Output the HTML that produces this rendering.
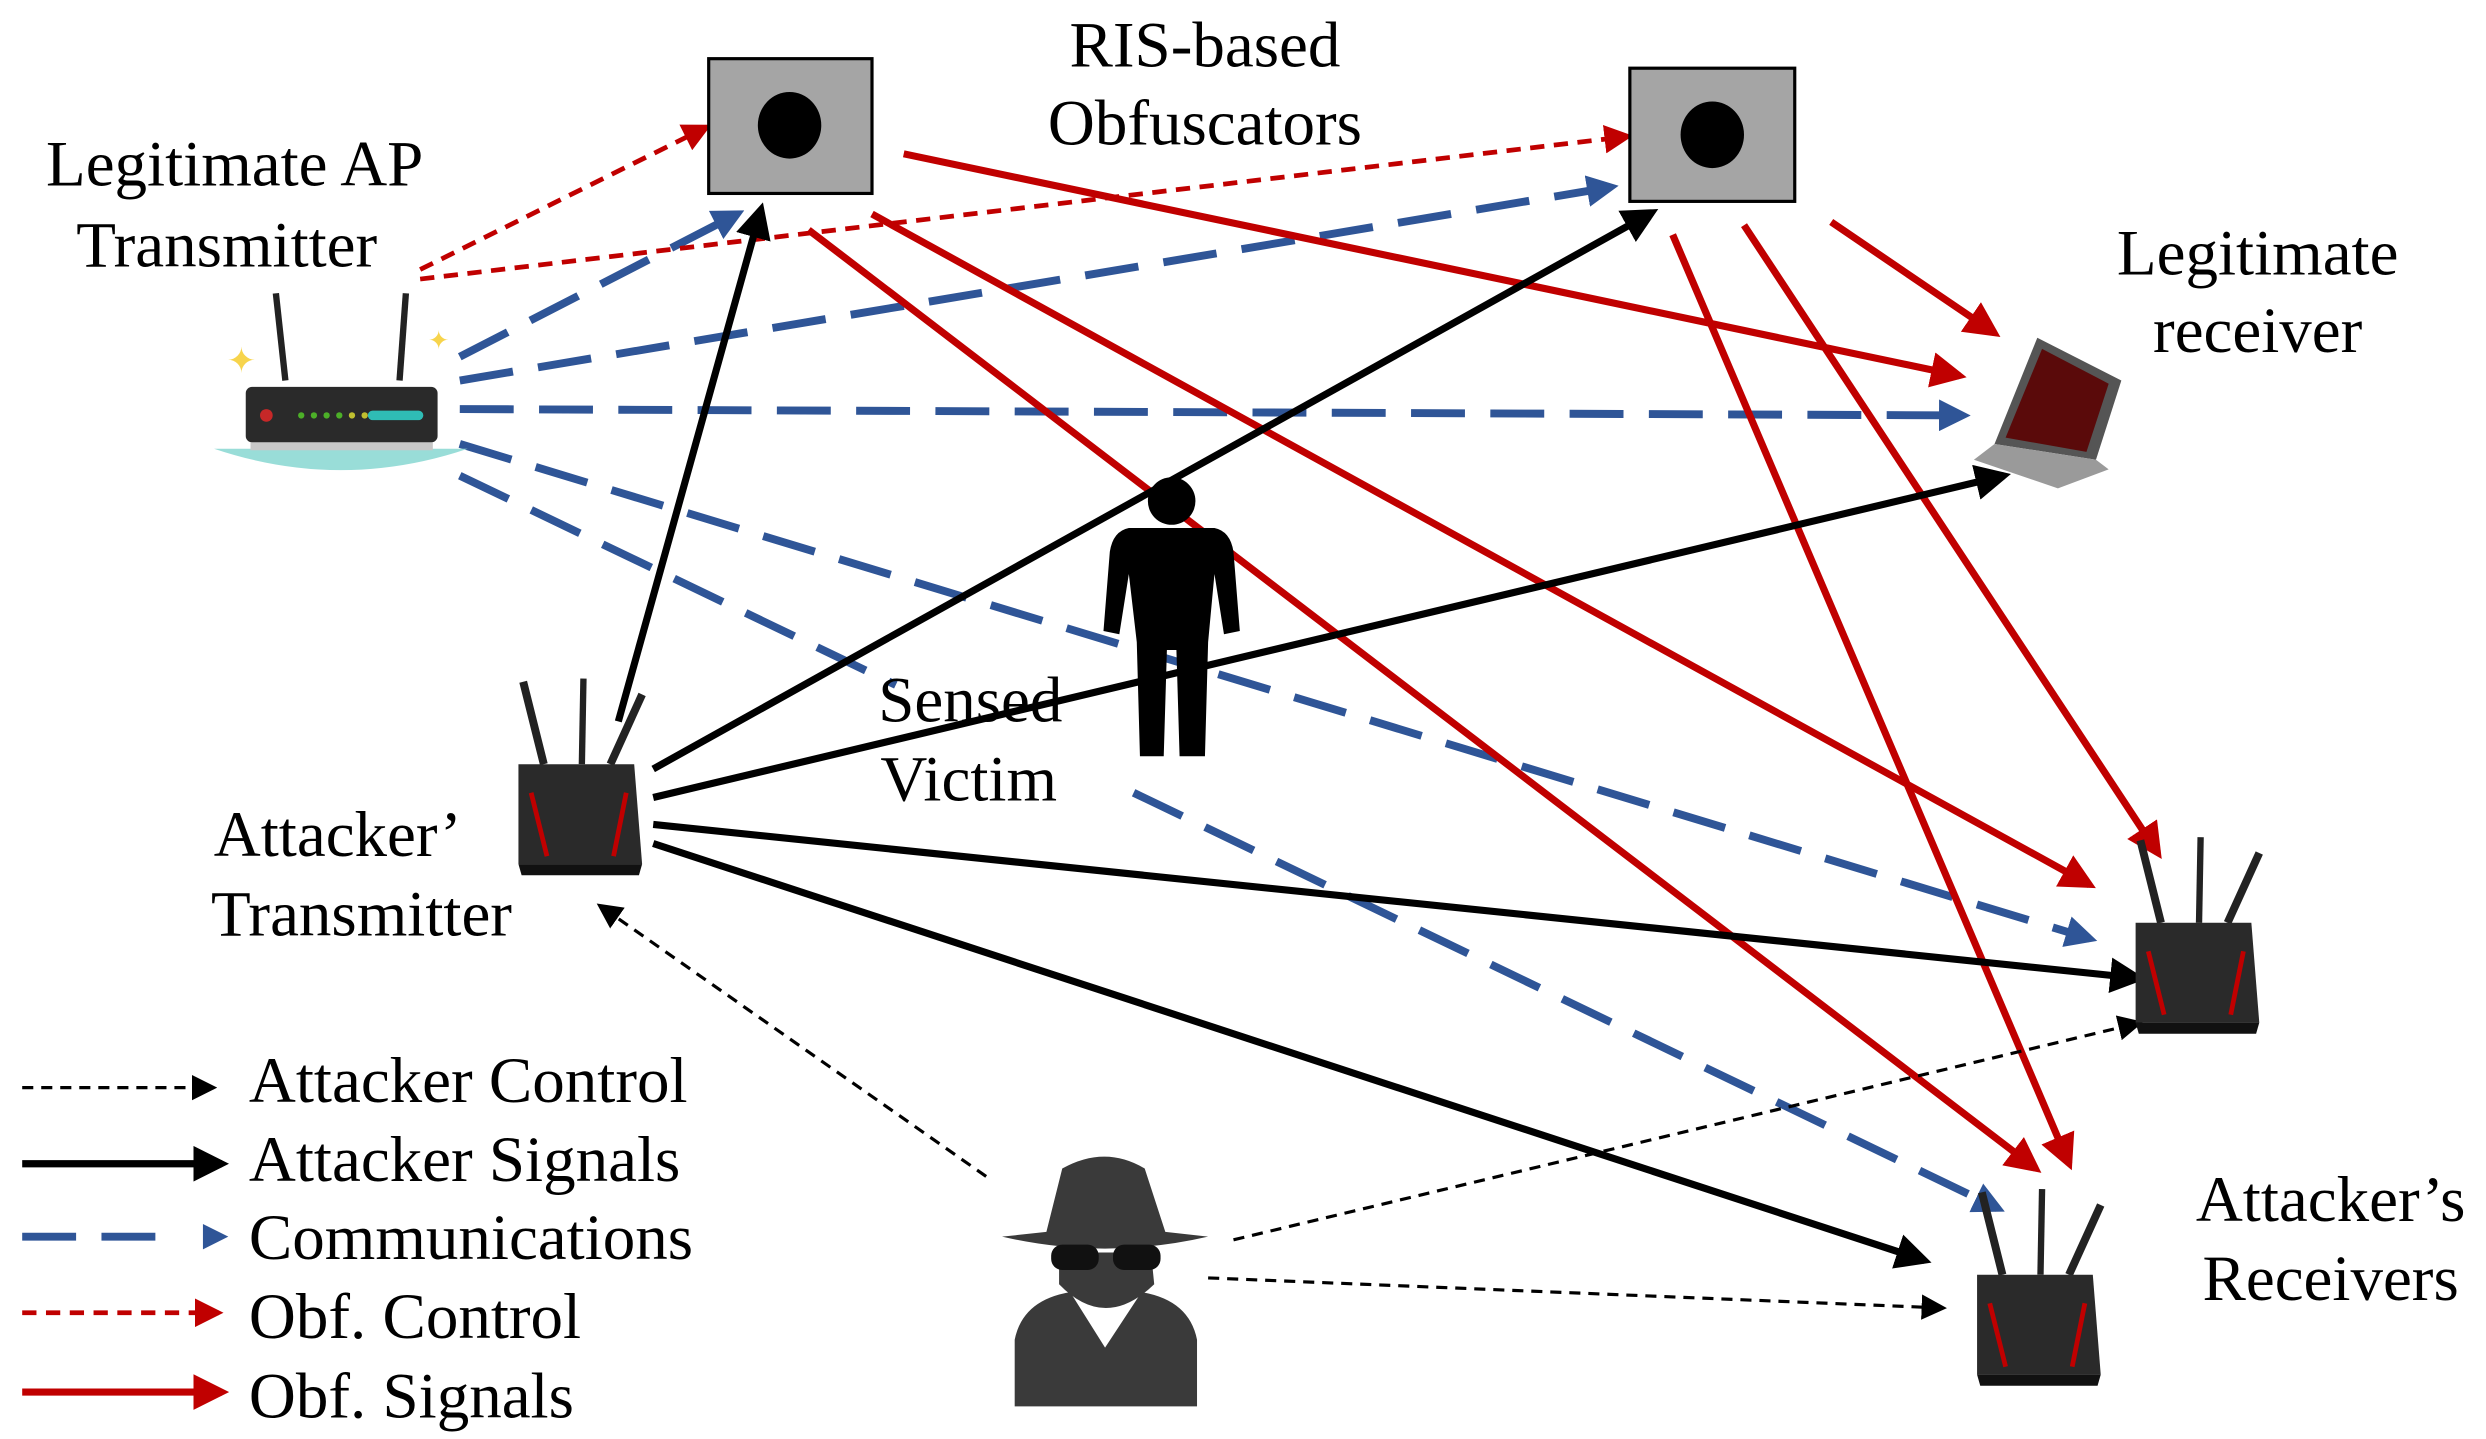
<!DOCTYPE html>
<html><head><meta charset="utf-8"><style>html,body{margin:0;padding:0;background:#fff}svg{display:block}text{font-family:"Liberation Serif","Times New Roman",serif}</style></head>
<body>
<svg width="2486" height="1439" viewBox="0 0 1568 907.6" xmlns="http://www.w3.org/2000/svg" font-size="41">
<defs>
<marker id="ab" markerWidth="5" markerHeight="5" refX="4" refY="2.5" orient="auto" markerUnits="strokeWidth"><path d="M0,0 L5,2.5 L0,5 z" fill="#000"/></marker>
<marker id="ar" markerWidth="5" markerHeight="5" refX="4" refY="2.5" orient="auto" markerUnits="strokeWidth"><path d="M0,0 L5,2.5 L0,5 z" fill="#c00000"/></marker>
<marker id="au" markerWidth="4" markerHeight="4" refX="3" refY="2" orient="auto" markerUnits="strokeWidth"><path d="M0,0 L4,2 L0,4 z" fill="#2f5597"/></marker>
<marker id="ad" markerWidth="8" markerHeight="8" refX="7" refY="4" orient="auto" markerUnits="strokeWidth"><path d="M0,0 L8,4 L0,8 z" fill="#000"/></marker>
<marker id="ard" markerWidth="6" markerHeight="6" refX="5" refY="3" orient="auto" markerUnits="strokeWidth"><path d="M0,0 L6,3 L0,6 z" fill="#c00000"/></marker>
<g id="rt">
<line x1="-35" y1="-70" x2="-22" y2="-18" stroke="#222" stroke-width="5"/>
<line x1="3" y1="-72" x2="2" y2="-18" stroke="#222" stroke-width="4"/>
<line x1="40" y1="-62" x2="20" y2="-18" stroke="#222" stroke-width="5"/>
<path d="M-38,-18 L35,-18 L40,45 L-38,45 z" fill="#2a2a2a"/>
<path d="M-30,0 L-20,40 M30,0 L22,40" stroke="#c00000" stroke-width="3"/>
<path d="M-38,45 L40,45 L38,52 L-36,52 z" fill="#111"/>
</g>
</defs>

<g stroke="#2f5597" stroke-width="5" stroke-dasharray="34,16" fill="none" marker-end="url(#au)">
<line x1="290" y1="225" x2="465" y2="135"/>
<line x1="290" y1="240" x2="1016" y2="118"/>
<line x1="290" y1="258" x2="1238" y2="262"/>
<line x1="290" y1="280" x2="1318" y2="592"/>
<line x1="715" y1="500" x2="1260" y2="762"/>
</g>
<line x1="290" y1="300" x2="565" y2="432" stroke="#2f5597" stroke-width="5" stroke-dasharray="34,16"/>
<g stroke="#c00000" stroke-width="3" stroke-dasharray="9,6" fill="none" marker-end="url(#ard)">
<line x1="265" y1="170" x2="446" y2="80"/>
<line x1="265" y1="176" x2="1027" y2="86"/>
</g>
<g stroke="#c00000" stroke-width="4.5" fill="none" marker-end="url(#ar)">
<line x1="570" y1="97" x2="1236" y2="237"/>
<line x1="550" y1="135" x2="1318" y2="558"/>
<line x1="510" y1="145" x2="1284" y2="737"/>
<line x1="1155" y1="140" x2="1258" y2="210"/>
<line x1="1100" y1="142" x2="1361" y2="538"/>
<line x1="1055" y1="148" x2="1305" y2="734"/>
</g>
<g stroke="#000" stroke-width="4.5" fill="none" marker-end="url(#ab)">
<line x1="390" y1="455" x2="480" y2="132"/>
<line x1="412" y1="485" x2="1042" y2="134"/>
<line x1="412" y1="503" x2="1264" y2="300"/>
<line x1="412" y1="520" x2="1349" y2="617"/>
<line x1="412" y1="532" x2="1214" y2="795"/>
</g>
<g stroke="#000" stroke-width="2" stroke-dasharray="7,5" fill="none" marker-end="url(#ad)">
<line x1="622" y1="742" x2="378" y2="571"/>
<line x1="778" y1="782" x2="1350" y2="645"/>
<line x1="762" y1="806" x2="1226" y2="825"/>
</g>

<rect x="447" y="37" width="103" height="85" fill="#a5a5a5" stroke="#000" stroke-width="2"/>
<ellipse cx="498" cy="79" rx="20" ry="21" fill="#000"/>
<rect x="1028" y="43" width="104" height="84" fill="#a5a5a5" stroke="#000" stroke-width="2"/>
<ellipse cx="1080" cy="85" rx="20" ry="21" fill="#000"/>

<path d="M135,283 Q215,310 295,283 Z" fill="#99ddd8"/>
<line x1="174" y1="185" x2="180" y2="240" stroke="#222" stroke-width="4"/>
<line x1="256" y1="185" x2="252" y2="240" stroke="#222" stroke-width="4"/>
<rect x="155" y="244" width="121" height="35" rx="4" fill="#2a2a2a"/>
<rect x="158" y="279" width="115" height="5" fill="#c8c8c8"/>
<circle cx="168" cy="262" r="4" fill="#c62828"/>
<rect x="232" y="259" width="35" height="6" rx="3" fill="#2fbcb5"/>
<g fill="#4caf28"><circle cx="190" cy="262" r="2"/><circle cx="198" cy="262" r="2"/><circle cx="206" cy="262" r="2"/><circle cx="214" cy="262" r="2"/></g>
<circle cx="222" cy="262" r="2" fill="#c0c030"/><circle cx="230" cy="262" r="2" fill="#c0c030"/>
<text x="143" y="235" fill="#f7d44c" font-size="22">✦</text>
<text x="270" y="220" fill="#f7d44c" font-size="16">✦</text>

<path d="M1258,280 L1285,213 L1338,240 L1322,290 z" fill="#555"/>
<path d="M1265,276 L1288,220 L1330,242 L1316,285 z" fill="#5a0a0a"/>
<path d="M1245,290 L1258,280 L1322,290 L1330,296 L1298,308 z" fill="#9a9a9a"/>

<circle cx="739" cy="316" r="15" fill="#000"/>
<path d="M712,333 L766,333 Q776,335 778,348 L782,398 L772,400 L766,362 L762,405 L760,477 L744,477 L742,410 L736,410 L734,477 L719,477 L717,405 L712,362 L706,400 L696,398 L700,348 Q702,335 712,333 z" fill="#000"/>

<path d="M632,780 L660,777 L670,737 Q697,722 722,737 L735,777 L762,780 Q697,795 632,780 z" fill="#3a3a3a"/>
<path d="M640,887 L640,845 Q645,820 675,815 L697,850 L720,815 Q750,820 755,845 L755,887 z" fill="#3a3a3a"/>
<path d="M668,810 Q697,840 728,810 L726,790 L668,790 z" fill="#3a3a3a"/>
<rect x="663" y="785" width="30" height="16" rx="7" fill="#111"/><rect x="702" y="785" width="30" height="16" rx="7" fill="#111"/>

<use href="#rt" x="365" y="500"/>
<use href="#rt" x="1385" y="600"/>
<use href="#rt" x="1285" y="822"/>

<g fill="#000" text-anchor="middle">
<text x="760" y="42">RIS-based</text>
<text x="760" y="91">Obfuscators</text>
<text x="148" y="117">Legitimate AP</text>
<text x="143" y="168">Transmitter</text>
<text x="1424" y="173">Legitimate</text>
<text x="1424" y="222">receiver</text>
<text x="612" y="455">Sensed</text>
<text x="611" y="505">Victim</text>
<text x="213" y="540">Attacker’</text>
<text x="228" y="590">Transmitter</text>
<text x="1470" y="770">Attacker’s</text>
<text x="1470" y="820">Receivers</text>
</g>

<line x1="14" y1="686" x2="135" y2="686" stroke="#000" stroke-width="2" stroke-dasharray="7,5" marker-end="url(#ad)"/>
<line x1="14" y1="734" x2="140" y2="734" stroke="#000" stroke-width="4.5" marker-end="url(#ab)"/>
<line x1="14" y1="780" x2="108" y2="780" stroke="#2f5597" stroke-width="5" stroke-dasharray="34,16"/>
<path d="M128,772 L144,780 L128,788 z" fill="#2f5597"/>
<line x1="14" y1="828" x2="138" y2="828" stroke="#c00000" stroke-width="3" stroke-dasharray="9,6" marker-end="url(#ard)"/>
<line x1="14" y1="878" x2="140" y2="878" stroke="#c00000" stroke-width="4.5" marker-end="url(#ar)"/>
<g fill="#000">
<text x="157" y="695">Attacker Control</text>
<text x="157" y="745">Attacker Signals</text>
<text x="157" y="794">Communications</text>
<text x="157" y="844">Obf. Control</text>
<text x="157" y="894">Obf. Signals</text>
</g>
</svg>
</body></html>
